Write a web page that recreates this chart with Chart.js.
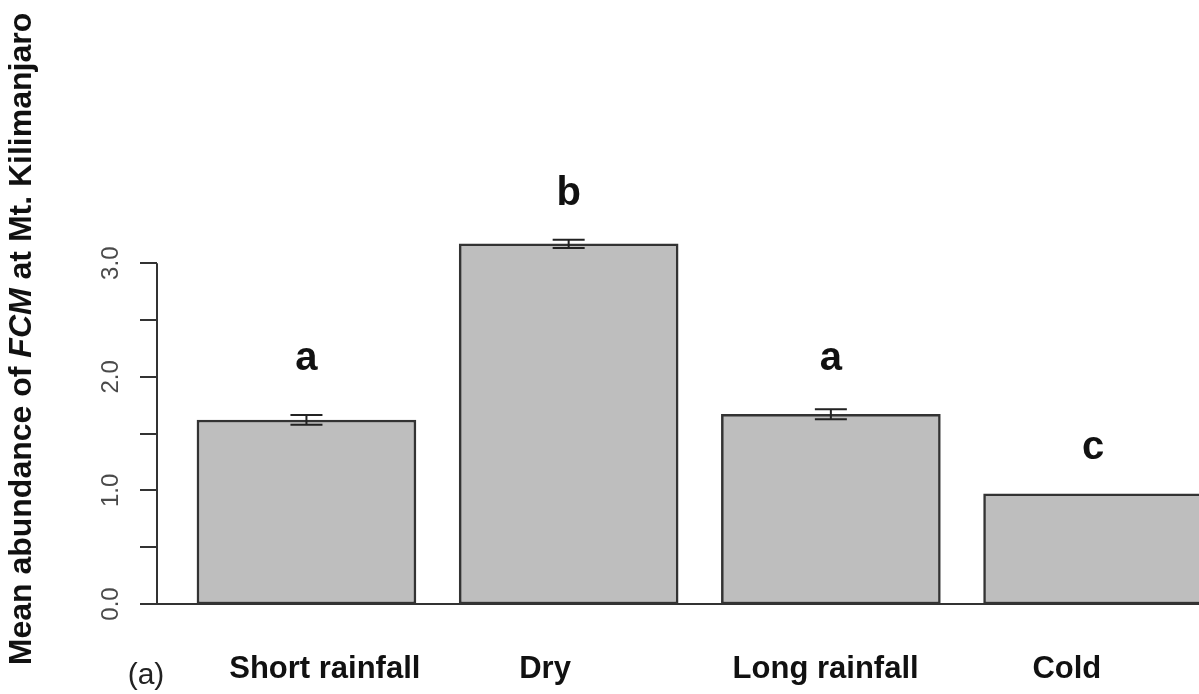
<!DOCTYPE html>
<html>
<head>
<meta charset="utf-8">
<title>Mean abundance of FCM at Mt. Kilimanjaro</title>
<script src="https://cdn.jsdelivr.net/npm/chart.js@4.4.1/dist/chart.umd.min.js"></script>
<style>
  html, body { margin: 0; padding: 0; background: #fff; overflow: hidden; }
  #wrap { width: 1199px; height: 694px; }
</style>
</head>
<body>
<div id="wrap"><canvas id="fcmChart" width="1199" height="694"></canvas></div>
<script>
// Seasonal means with standard errors and significance groups
const seasons = ['Short rainfall', 'Dry', 'Long rainfall', 'Cold'];
const meanAbundance = [1.62, 3.17, 1.67, 0.97];
const stdError = [0.043, 0.037, 0.044, 0];
const groupLetters = ['a', 'b', 'a', 'c'];
const letterHeights = [2.06, 3.51, 2.06, 1.28];   // where each group letter sits, in y units
const yTicks = [0, 0.5, 1, 1.5, 2, 2.5, 3];
const yTickLabels = { 0: '0.0', 1: '1.0', 2: '2.0', 3: '3.0' };

const FONT = '"Liberation Sans", Arial, Helvetica, sans-serif';
// season names are set a little off the bar centres
const labelShift = [0.07, -0.09, -0.02, -0.1];

// R-style axis, error bars, letters and titles drawn on top of the bars
const baseAxisPlugin = {
  id: 'baseAxis',
  beforeDatasetsDraw(chart) {
    const { ctx, chartArea, scales: { y } } = chart;
    const y0 = y.getPixelForValue(0);
    ctx.save();
    ctx.strokeStyle = '#333';
    ctx.lineWidth = 2;
    ctx.beginPath();
    ctx.moveTo(chartArea.left, y0);
    ctx.lineTo(chartArea.right, y0);
    ctx.stroke();
    ctx.restore();
  }
};

const decorPlugin = {
  id: 'decor',
  afterDatasetsDraw(chart) {
    const { ctx, chartArea, scales: { y } } = chart;
    const left = chartArea.left;
    ctx.save();

    // y axis line and tick marks (0 .. 3)
    ctx.strokeStyle = '#333';
    ctx.lineWidth = 2;
    ctx.beginPath();
    ctx.moveTo(left, y.getPixelForValue(0));
    ctx.lineTo(left, y.getPixelForValue(yTicks[yTicks.length - 1]));
    yTicks.forEach(v => {
      const py = Math.round(y.getPixelForValue(v));
      ctx.moveTo(left - 17, py);
      ctx.lineTo(left, py);
    });
    ctx.stroke();

    // rotated tick labels
    ctx.fillStyle = '#4a4a4a';
    ctx.font = '24px ' + FONT;
    ctx.textAlign = 'center';
    ctx.textBaseline = 'alphabetic';
    yTicks.forEach(v => {
      if (!(v in yTickLabels)) return;
      ctx.save();
      ctx.translate(118, y.getPixelForValue(v));
      ctx.rotate(-Math.PI / 2);
      ctx.fillText(yTickLabels[v], 0, 0);
      ctx.restore();
    });

    // error bars
    const meta = chart.getDatasetMeta(0);
    ctx.strokeStyle = '#222';
    ctx.lineWidth = 2;
    meta.data.forEach((bar, i) => {
      const e = stdError[i];
      if (!e) return;
      const top = y.getPixelForValue(meanAbundance[i] + e);
      const bot = y.getPixelForValue(meanAbundance[i] - e);
      ctx.beginPath();
      ctx.moveTo(bar.x, top);
      ctx.lineTo(bar.x, bot);
      ctx.moveTo(bar.x - 16, top);
      ctx.lineTo(bar.x + 16, top);
      ctx.moveTo(bar.x - 16, bot);
      ctx.lineTo(bar.x + 16, bot);
      ctx.stroke();
    });

    // significance letters
    ctx.fillStyle = '#111';
    ctx.font = 'bold 40px ' + FONT;
    ctx.textAlign = 'center';
    ctx.textBaseline = 'alphabetic';
    meta.data.forEach((bar, i) => {
      ctx.fillText(groupLetters[i], bar.x, y.getPixelForValue(letterHeights[i]));
    });

    // y axis title with italic FCM
    const parts = [
      ['Mean abundance of ', 'bold 32px ' + FONT],
      ['FCM', 'italic bold 32px ' + FONT],
      [' at Mt. Kilimanjaro', 'bold 32px ' + FONT]
    ];
    let total = 0;
    parts.forEach(p => { ctx.font = p[1]; total += ctx.measureText(p[0]).width; });
    ctx.save();
    ctx.translate(31, 339);
    ctx.rotate(-Math.PI / 2);
    ctx.textAlign = 'left';
    let cx = -total / 2;
    parts.forEach(p => {
      ctx.font = p[1];
      ctx.fillText(p[0], cx, 0);
      cx += ctx.measureText(p[0]).width;
    });
    ctx.restore();

    // panel label
    ctx.fillStyle = '#222';
    ctx.font = '30px ' + FONT;
    ctx.textAlign = 'center';
    ctx.fillText('(a)', 146, 684);

    ctx.restore();
  }
};

new Chart(document.getElementById('fcmChart'), {
  type: 'bar',
  data: {
    datasets: [{
      data: meanAbundance.map((v, i) => ({ x: i + 1, y: v })),
      backgroundColor: '#bebebe',
      borderColor: '#333',
      borderWidth: 2.5,
      borderSkipped: false,
      barThickness: 219
    }]
  },
  options: {
    responsive: false,
    animation: false,
    layout: { padding: { top: 36, right: 0, bottom: 0, left: 0 } },
    plugins: { legend: { display: false }, tooltip: { enabled: false } },
    scales: {
      x: {
        type: 'linear',
        offset: false,
        min: 0.43,
        max: 4.404,
        grid: { display: false, offset: false },
        border: { display: false },
        afterBuildTicks: scale => {
          scale.ticks = seasons.map((s, i) => ({ value: i + 1 + labelShift[i] }));
        },
        afterFit: scale => { scale.height = 90; },
        ticks: {
          autoSkip: false,
          maxRotation: 0,
          padding: 39,
          color: '#111',
          font: { family: FONT, size: 31, weight: 'bold' },
          callback: v => seasons[Math.round(v) - 1]
        }
      },
      y: {
        min: 0,
        max: 5,
        grid: { display: false },
        border: { display: false },
        ticks: { display: false },
        afterFit: scale => { scale.width = 157; }
      }
    }
  },
  plugins: [baseAxisPlugin, decorPlugin]
});
</script>
</body>
</html>
